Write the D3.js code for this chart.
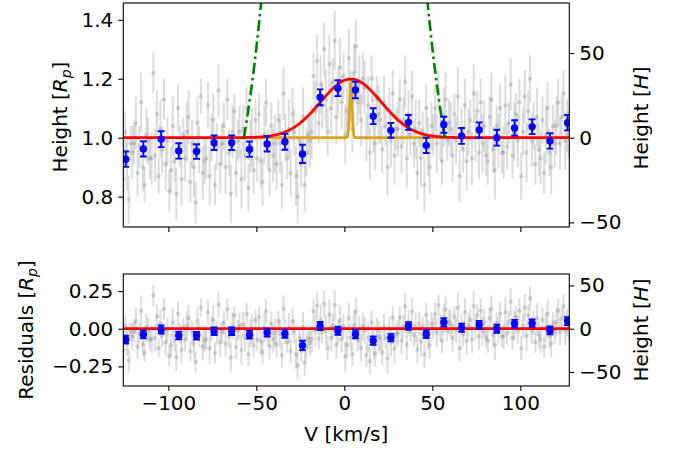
<!DOCTYPE html>
<html lang="en">
<head>
<meta charset="UTF-8">
<title>Line profile fit</title>
<script src="https://d3js.org/d3.v7.min.js"></script>
<style>
  body { margin: 0; background: #fff; }
  svg text { font-family: "DejaVu Sans", sans-serif; fill: #000; }
</style>
</head>
<body>
<svg id="chart" width="681" height="455"></svg>
<script>
// binned points (blue)
const binV = [-124.2, -114.2, -104.1, -94.1, -84.0, -74.0, -64.0, -53.9, -43.9, -33.8, -23.8, -13.8, -3.7,
              6.3, 16.4, 26.4, 36.4, 46.5, 56.5, 66.6, 76.6, 86.6, 96.7, 106.7, 116.8, 126.8];
const binH = [0.927, 0.962, 0.995, 0.955, 0.953, 0.983, 0.983, 0.961, 0.979, 0.986, 0.945, 1.137, 1.168,
              1.162, 1.073, 1.025, 1.052, 0.974, 1.044, 1.006, 1.026, 1.000, 1.033, 1.037, 0.989, 1.051];
const binErr = [0.026, 0.026, 0.027, 0.026, 0.025, 0.025, 0.025, 0.026, 0.026, 0.027, 0.031, 0.027, 0.027,
                0.028, 0.027, 0.025, 0.025, 0.026, 0.027, 0.027, 0.026, 0.027, 0.026, 0.025, 0.026, 0.026];

// unbinned points (grey), one per km/s starting at rawV0
const rawV0 = -125.5, rawStep = 1.0;
const rawH = [
  0.86, 1.02, 0.91, 0.79, 0.98, 0.95, 0.98,
  1.05, 0.88, 0.97, 1.12, 0.90, 0.84, 1.01, 0.99, 0.93, 0.93,
  1.22, 0.94, 1.08, 0.87, 1.03, 0.96, 1.13, 0.91, 0.99, 0.82,
  0.89, 1.04, 0.92, 0.81, 1.10, 0.97, 0.86, 1.01, 0.93, 1.02,
  1.07, 0.85, 0.98, 0.90, 0.78, 1.05, 0.96, 1.14, 0.88, 0.92,
  0.93, 1.11, 0.87, 1.00, 1.06, 0.84, 0.97, 1.16, 0.91, 0.98,
  1.04, 0.90, 1.13, 0.95, 0.81, 1.02, 1.09, 0.88, 0.99, 1.02,
  0.86, 1.03, 0.94, 1.10, 0.83, 0.97, 1.00, 0.89, 1.06, 0.93,
  1.08, 0.92, 0.85, 1.01, 1.12, 0.96, 0.89, 1.04, 0.94, 0.98,
  0.91, 1.06, 0.98, 0.84, 1.15, 1.00, 0.93, 1.03, 0.88, 1.08,
  1.02, 0.87, 0.80, 0.99, 0.91, 1.07, 0.84, 0.95, 1.01, 0.99,
  1.02, 1.21, 1.09, 1.26, 1.05, 1.18, 1.11, 1.30, 1.13, 1.02,
  1.25, 1.10, 1.19, 1.33, 1.07, 1.16, 1.24, 1.12, 1.21, 1.01,
  1.09, 1.27, 1.14, 1.03, 1.22, 1.31, 1.12, 1.18, 1.06, 1.20,
  1.17, 1.00, 1.11, 0.95, 1.20, 1.05, 0.98, 1.13, 1.08, 1.06,
  0.96, 1.12, 1.04, 0.90, 1.09, 0.99, 1.15, 0.94, 1.03, 1.03,
  1.13, 0.97, 1.06, 1.19, 0.93, 1.08, 1.01, 1.14, 0.98, 1.03,
  0.88, 1.05, 0.93, 1.02, 0.84, 1.10, 0.97, 0.90, 1.04, 1.01,
  1.10, 0.98, 1.16, 1.01, 0.92, 1.07, 1.13, 0.99, 1.05, 1.03,
  0.94, 1.08, 0.99, 1.14, 0.87, 1.03, 0.96, 1.11, 0.92, 1.02,
  1.06, 0.93, 1.15, 1.00, 1.09, 0.95, 1.12, 0.98, 1.04, 0.94,
  0.92, 1.07, 1.13, 0.96, 0.89, 1.04, 0.99, 1.10, 0.95, 0.95,
  1.11, 0.97, 1.05, 1.18, 0.94, 1.02, 1.08, 0.99, 1.12, 0.87,
  1.02, 1.14, 0.95, 1.09, 1.20, 0.99, 1.04, 0.91, 1.07, 0.96,
  0.93, 1.06, 0.88, 1.01, 1.10, 0.95, 0.90, 1.04, 0.98, 1.04,
  1.12, 0.98, 1.07, 1.15, 0.99, 1.04, 1.01
];
// errors in hundredths of Rp
const rawErr = [
  8, 7, 9, 8, 6, 9, 7,
  9, 8, 7, 10, 8, 6, 9, 8, 7, 9,
  7, 9, 8, 6, 10, 8, 7, 9, 8, 7,
  8, 10, 7, 9, 8, 7, 9, 6, 8, 10,
  9, 7, 8, 10, 7, 9, 8, 6, 9, 8,
  7, 8, 10, 8, 9, 7, 8, 9, 10, 7,
  8, 9, 7, 8, 10, 9, 6, 8, 7, 9,
  10, 8, 9, 7, 8, 9, 10, 8, 7, 8,
  7, 9, 8, 10, 8, 7, 9, 8, 9, 10,
  9, 7, 10, 8, 9, 8, 7, 10, 8, 9,
  8, 10, 9, 7, 8, 10, 9, 8, 7, 9,
  9, 8, 10, 9, 7, 10, 8, 9, 10, 8,
  10, 9, 8, 10, 9, 8, 10, 9, 8, 10,
  8, 10, 9, 8, 10, 9, 8, 10, 9, 9,
  9, 8, 10, 9, 8, 10, 9, 8, 10, 8,
  8, 9, 7, 10, 8, 9, 8, 10, 7, 9,
  7, 9, 8, 9, 10, 8, 7, 9, 8, 10,
  9, 8, 10, 7, 9, 8, 10, 9, 8, 7,
  8, 10, 7, 9, 8, 10, 9, 7, 8, 9,
  9, 7, 8, 10, 9, 7, 8, 9, 10, 8,
  7, 9, 10, 8, 7, 9, 8, 10, 9, 7,
  8, 7, 9, 8, 10, 7, 9, 8, 7, 9,
  10, 8, 7, 9, 8, 10, 7, 9, 8, 8,
  8, 9, 10, 7, 8, 9, 8, 7, 10, 9,
  9, 8, 7, 10, 9, 8, 9, 7, 8, 10,
  8, 9, 7, 8, 10, 9, 8
];

// model parameters
const fitGauss = { amp: 0.199, center: 3.7, sigma: 17.3 };   // red
const narrowGauss = { amp: 0.19, center: 3.7, sigma: 0.7 };  // orange
const vEsc = 57.1;                                           // green, R = (vEsc/v)^2
const hPerRp = 174;                                          // right axis: 1 Rp = 174 H

const xTicks = [-100, -50, 0, 50, 100];
const topTicks = [0.8, 1.0, 1.2, 1.4];
const resTicks = [-0.25, 0, 0.25];
const hTicks = [-50, 0, 50];

const svg = d3.select("#chart");
const L = 123.3, R = 569.3;
const topP = { y0: 3, y1: 227 };
const botP = { y0: 274, y1: 386 };

const x = d3.scaleLinear().domain([-125.6, 127.8]).range([L, R]);
const yTop = d3.scaleLinear().domain([0.697, 1.457]).range([topP.y1, topP.y0]);
const yTopH = d3.scaleLinear().domain([(0.697 - 1) * hPerRp, (1.457 - 1) * hPerRp]).range([topP.y1, topP.y0]);
const yRes = d3.scaleLinear().domain([-0.380, 0.363]).range([botP.y1, botP.y0]);
const yResH = d3.scaleLinear().domain([-0.380 * hPerRp, 0.363 * hPerRp]).range([botP.y1, botP.y0]);

const gauss = (p, v) => p.amp * Math.exp(-((v - p.center) ** 2) / (2 * p.sigma ** 2));
const model = v => 1 + gauss(fitGauss, v);

const raw = rawH.map((h, i) => ({ v: rawV0 + i * rawStep, h: h, e: rawErr[i] / 100 }));
const bins = binH.map((h, i) => ({ v: binV[i], h: h, e: binErr[i] }));

// clip paths
const defs = svg.append("defs");
[["clipTop", topP], ["clipBot", botP]].forEach(([id, p]) => {
  defs.append("clipPath").attr("id", id).append("rect")
    .attr("x", L).attr("y", p.y0).attr("width", R - L).attr("height", p.y1 - p.y0);
});

function drawPanel(p, y, clipId, getH, curves) {
  const g = svg.append("g").attr("clip-path", `url(#${clipId})`);

  g.selectAll(".rawbar").data(raw).enter().append("line")
    .attr("x1", d => x(d.v)).attr("x2", d => x(d.v))
    .attr("y1", d => y(getH(d) - d.e)).attr("y2", d => y(getH(d) + d.e))
    .attr("stroke", "gray").attr("stroke-opacity", 0.27).attr("stroke-width", 2);
  g.selectAll(".rawdot").data(raw).enter().append("circle")
    .attr("cx", d => x(d.v)).attr("cy", d => y(getH(d))).attr("r", 2.2)
    .attr("fill", "gray").attr("fill-opacity", 0.3);

  curves(g);

  const b = g.selectAll(".bin").data(bins).enter().append("g");
  b.append("line")
    .attr("x1", d => x(d.v)).attr("x2", d => x(d.v))
    .attr("y1", d => y(getH(d) - d.e)).attr("y2", d => y(getH(d) + d.e))
    .attr("stroke", "blue").attr("stroke-width", 1.9);
  [-1, 1].forEach(s => {
    b.append("line")
      .attr("x1", d => x(d.v) - 3.4).attr("x2", d => x(d.v) + 3.4)
      .attr("y1", d => y(getH(d) + s * d.e)).attr("y2", d => y(getH(d) + s * d.e))
      .attr("stroke", "blue").attr("stroke-width", 1.9);
  });
  b.append("circle")
    .attr("cx", d => x(d.v)).attr("cy", d => y(getH(d))).attr("r", 3.7)
    .attr("fill", "blue");

  svg.append("rect")
    .attr("x", L).attr("y", p.y0).attr("width", R - L).attr("height", p.y1 - p.y0)
    .attr("fill", "none").attr("stroke", "#000").attr("stroke-width", 1.1);
}

const line = (y) => d3.line().x(d => x(d[0])).y(d => y(d[1]));

// top panel
drawPanel(topP, yTop, "clipTop", d => d.h, g => {
  const narrow = d3.range(-vEsc, vEsc + 0.05, 0.1).map(v => [v, 1 + gauss(narrowGauss, v)]);
  g.append("path").datum(narrow).attr("d", line(yTop))
    .attr("fill", "none").attr("stroke", "#DAA520").attr("stroke-width", 2.8);

  const fit = d3.range(-130, 130.05, 0.25).map(v => [v, model(v)]);
  g.append("path").datum(fit).attr("d", line(yTop))
    .attr("fill", "none").attr("stroke", "red").attr("stroke-width", 2.8);

  [-1, 1].forEach(s => {
    const branch = d3.range(vEsc, 44, -0.1).map(a => [s * a, (vEsc / a) ** 2]);
    g.append("path").datum(branch).attr("d", line(yTop))
      .attr("fill", "none").attr("stroke", "green").attr("stroke-width", 2.6)
      .attr("stroke-dasharray", "11,4,2.5,4");
  });
});

// residual panel
drawPanel(botP, yRes, "clipBot", d => d.h - model(d.v), g => {
  g.append("path").datum([[-130, 0], [130, 0]]).attr("d", line(yRes))
    .attr("fill", "none").attr("stroke", "red").attr("stroke-width", 2.8);
});

// axes
function styleAxis(g) {
  g.attr("font-size", 20).attr("font-family", "DejaVu Sans");
  g.select(".domain").remove();
  g.selectAll(".tick line").attr("stroke", "#000").attr("stroke-width", 1.1);
}
const fmtMinus = s => s.replace("-", "\u2212");

svg.append("g").attr("transform", `translate(0,${topP.y1})`)
  .call(d3.axisBottom(x).tickValues(xTicks).tickSize(5).tickFormat(""))
  .call(styleAxis);
svg.append("g").attr("transform", `translate(0,${botP.y1})`)
  .call(d3.axisBottom(x).tickValues(xTicks).tickSize(5).tickPadding(5).tickFormat(d => fmtMinus(String(d))))
  .call(styleAxis);

svg.append("g").attr("transform", `translate(${L},0)`)
  .call(d3.axisLeft(yTop).tickValues(topTicks).tickSize(5).tickPadding(5).tickFormat(d3.format(".1f")))
  .call(styleAxis);
svg.append("g").attr("transform", `translate(${L},0)`)
  .call(d3.axisLeft(yRes).tickValues(resTicks).tickSize(5).tickPadding(5).tickFormat(d => fmtMinus(d3.format(".2f")(d))))
  .call(styleAxis);

svg.append("g").attr("transform", `translate(${R},0)`)
  .call(d3.axisRight(yTopH).tickValues(hTicks).tickSize(5).tickPadding(5).tickFormat(d => fmtMinus(String(d))))
  .call(styleAxis);
svg.append("g").attr("transform", `translate(${R},0)`)
  .call(d3.axisRight(yResH).tickValues(hTicks).tickSize(5).tickPadding(5).tickFormat(d => fmtMinus(String(d))))
  .call(styleAxis);

// axis labels
svg.append("text").attr("x", (L + R) / 2).attr("y", 441).attr("text-anchor", "middle")
  .attr("font-size", 20).text("V [km/s]");

function label(xPos, yPos, word, sym, sub) {
  const t = svg.append("text").attr("transform", `translate(${xPos},${yPos}) rotate(-90)`)
    .attr("text-anchor", "middle").attr("font-size", 20);
  t.append("tspan").text(word + " [");
  t.append("tspan").attr("font-style", "italic").text(sym);
  if (sub) {
    t.append("tspan").attr("font-style", "italic").attr("font-size", 14).attr("dy", 4).text(sub);
    t.append("tspan").attr("dy", -4).text("]");
  } else {
    t.append("tspan").text("]");
  }
}
label(67, (topP.y0 + topP.y1) / 2 + 2, "Height", "R", "p");
label(33, (botP.y0 + botP.y1) / 2, "Residuals", "R", "p");
label(648, (topP.y0 + topP.y1) / 2 + 3, "Height", "H");
label(648, (botP.y0 + botP.y1) / 2, "Height", "H");
</script>
</body>
</html>
